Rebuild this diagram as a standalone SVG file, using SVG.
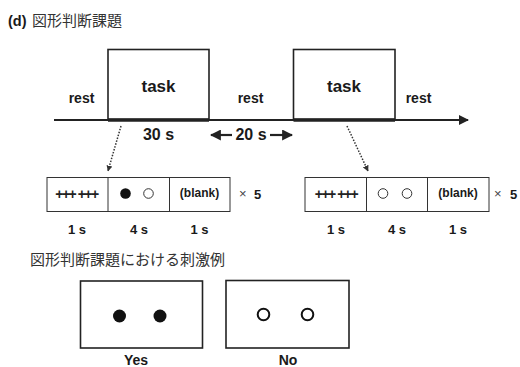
<svg xmlns="http://www.w3.org/2000/svg" width="520" height="367" viewBox="0 0 520 367">
<style>
.lab{font-family:"Liberation Sans",Arial,sans-serif;font-weight:bold;fill:#1a1a1a}
.jp{font-family:"Noto Sans CJK JP","Noto Sans CJK SC",sans-serif;fill:#333}
.box{fill:#fff;stroke:#222;stroke-width:1.6}
.sbox{fill:#fff;stroke:#333;stroke-width:1}
.dot{stroke:#333;stroke-width:1.5;stroke-dasharray:1.5 1.5;fill:none}
.plus{font-family:"Liberation Sans",Arial,sans-serif;font-weight:bold;fill:#222;font-size:14px}
</style>
<defs>
<marker id="ah" viewBox="0 0 10 10" refX="9" refY="5" markerWidth="5" markerHeight="5" orient="auto"><path d="M0,0L10,5L0,10z" fill="#222"/></marker>
<marker id="ahs" viewBox="0 0 10 10" refX="9" refY="5" markerWidth="4" markerHeight="4" orient="auto"><path d="M0,0L10,5L0,10z" fill="#333"/></marker>
</defs>
<g id="title">
<text x="8" y="26" class="lab" font-size="14.5">(d)</text>
<text x="32" y="26" class="jp" font-size="15">図形判断課題</text>
</g>
<g id="task1">
<rect class="box" x="108" y="49.5" width="101" height="70"/>
<text x="158.5" y="92" class="lab" font-size="17" text-anchor="middle">task</text>
</g>
<g id="task2">
<rect class="box" x="293.5" y="49.5" width="101.5" height="70"/>
<text x="344" y="92" class="lab" font-size="17" text-anchor="middle">task</text>
</g>
<g id="rest-labels">
<text x="81.5" y="103" class="lab" font-size="14" text-anchor="middle">rest</text>
<text x="250.5" y="103" class="lab" font-size="14" text-anchor="middle">rest</text>
<text x="418.5" y="103" class="lab" font-size="14" text-anchor="middle">rest</text>
<text x="158.5" y="140" class="lab" font-size="16" text-anchor="middle">30 s</text>
<text x="251" y="140" class="lab" font-size="16" text-anchor="middle">20 s</text>
</g>
<g id="connectors">
<line x1="54" y1="120" x2="468" y2="120" stroke="#222" stroke-width="2" marker-end="url(#ah)"/>
<line x1="108" y1="120" x2="209" y2="120" stroke="#222" stroke-width="3.5"/>
<line x1="293.5" y1="120" x2="395" y2="120" stroke="#222" stroke-width="3.5"/>
<line x1="232" y1="135" x2="211" y2="135" stroke="#222" stroke-width="2.2" marker-end="url(#ah)"/>
<line x1="270" y1="135" x2="292" y2="135" stroke="#222" stroke-width="2.2" marker-end="url(#ah)"/>
<line class="dot" x1="121" y1="126" x2="108" y2="171" marker-end="url(#ahs)"/>
<line class="dot" x1="347" y1="126" x2="368" y2="171" marker-end="url(#ahs)"/>
</g>
<g id="seq1">
<rect class="sbox" x="47" y="177.5" width="183" height="34"/>
<line x1="108" y1="177.5" x2="108" y2="211.5" stroke="#333"/>
<line x1="169.5" y1="177.5" x2="169.5" y2="211.5" stroke="#333"/>
<text x="76.5" y="198.5" class="plus" text-anchor="middle" letter-spacing="-1.5">+++ +++</text>
<circle cx="125.5" cy="193.5" r="5.3" fill="#111"/>
<circle cx="148.5" cy="193.5" r="4.8" fill="#fff" stroke="#333" stroke-width="1"/>
<text x="199.5" y="197" class="lab" font-size="12" text-anchor="middle">(blank)</text>
<text x="239" y="198" font-family="Liberation Sans,Arial,sans-serif" font-size="13" fill="#444">×</text>
<text x="254" y="199" class="lab" font-size="13">5</text>
<text x="77" y="234" class="lab" font-size="13" text-anchor="middle">1 s</text>
<text x="139" y="234" class="lab" font-size="13" text-anchor="middle">4 s</text>
<text x="199.5" y="234" class="lab" font-size="13" text-anchor="middle">1 s</text>
</g>
<g id="seq2">
<rect class="sbox" x="305" y="177.5" width="184" height="34"/>
<line x1="366.5" y1="177.5" x2="366.5" y2="211.5" stroke="#333"/>
<line x1="427.5" y1="177.5" x2="427.5" y2="211.5" stroke="#333"/>
<text x="336" y="198.5" class="plus" text-anchor="middle" letter-spacing="-1.5">+++ +++</text>
<circle cx="383" cy="193.5" r="4.8" fill="#fff" stroke="#333" stroke-width="1"/>
<circle cx="407" cy="193.5" r="4.8" fill="#fff" stroke="#333" stroke-width="1"/>
<text x="458" y="197" class="lab" font-size="12" text-anchor="middle">(blank)</text>
<text x="494" y="198" font-family="Liberation Sans,Arial,sans-serif" font-size="13" fill="#444">×</text>
<text x="510" y="199" class="lab" font-size="13">5</text>
<text x="336" y="234" class="lab" font-size="13" text-anchor="middle">1 s</text>
<text x="397" y="234" class="lab" font-size="13" text-anchor="middle">4 s</text>
<text x="458" y="234" class="lab" font-size="13" text-anchor="middle">1 s</text>
</g>
<g id="example-title">
<text x="30" y="265" class="jp" font-size="15">図形判断課題における刺激例</text>
</g>
<g id="yes">
<rect class="box" x="80.5" y="281" width="122" height="67"/>
<circle cx="119.5" cy="316" r="6.5" fill="#111"/>
<circle cx="160" cy="316" r="6.5" fill="#111"/>
<text x="136" y="365" class="lab" font-size="14" text-anchor="middle">Yes</text>
</g>
<g id="no">
<rect class="box" x="226" y="280.5" width="123" height="67.5"/>
<circle cx="263.5" cy="314.5" r="5.8" fill="#fff" stroke="#111" stroke-width="2"/>
<circle cx="307.5" cy="314.5" r="5.8" fill="#fff" stroke="#111" stroke-width="2"/>
<text x="288" y="365" class="lab" font-size="14" text-anchor="middle">No</text>
</g>
</svg>
